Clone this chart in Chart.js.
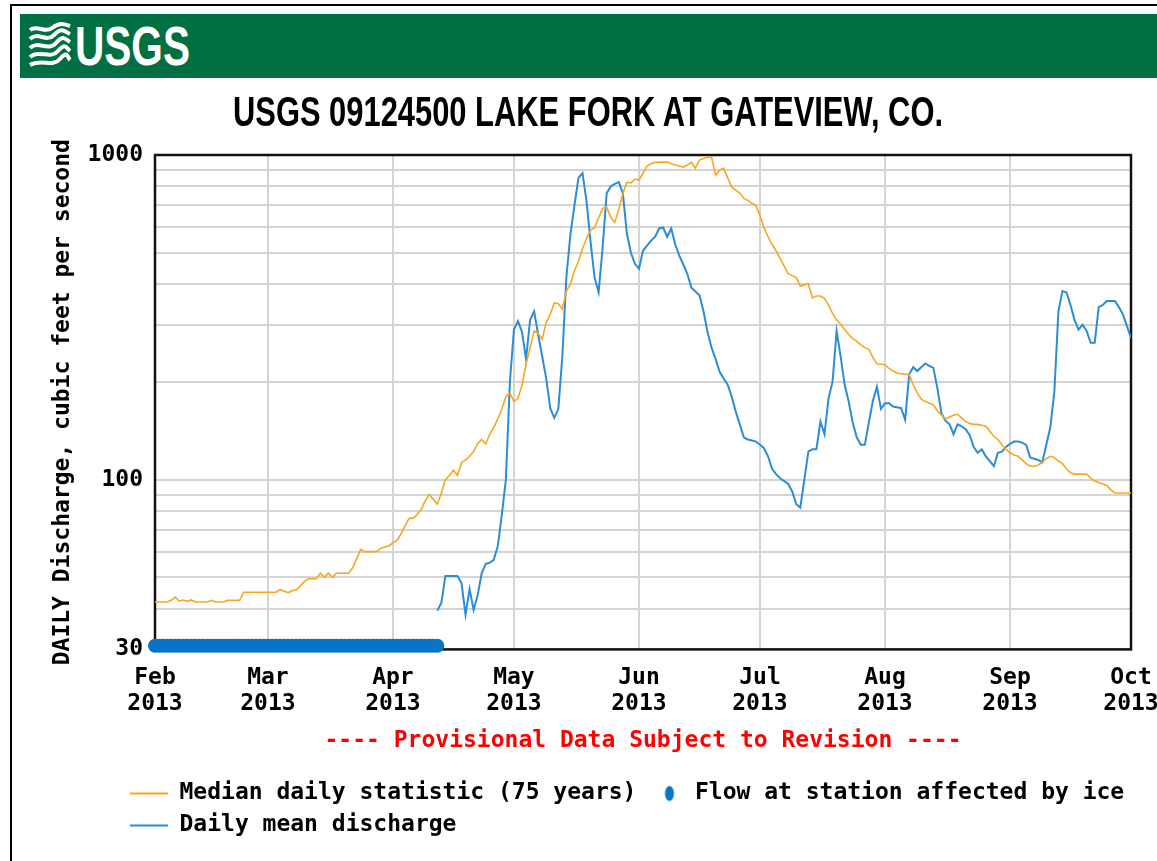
<!DOCTYPE html>
<html>
<head>
<meta charset="utf-8">
<title>USGS 09124500 LAKE FORK AT GATEVIEW, CO.</title>
<script src="https://cdn.jsdelivr.net/npm/chart.js@4.4.1/dist/chart.umd.min.js"></script>
<style>
  html, body { margin: 0; padding: 0; background: #fff; overflow: hidden; }
  #wrap { position: absolute; left: 0; top: 0; width: 1157px; height: 861px; }
  #frame { position: absolute; left: 10px; top: 4px; width: 1200px; height: 900px;
           border-left: 2px solid #000; border-top: 2px solid #000; pointer-events: none; }
  #banner { position: absolute; left: 20px; top: 14px; width: 1150px; height: 64px; background: #006f41; }
  #heading { position: absolute; left: 0; top: 80px; }
</style>
</head>
<body>
<div id="wrap"><canvas id="flowChart"></canvas></div>
<div id="frame"></div>
<div id="banner">
  <svg width="190" height="64" viewBox="0 0 190 64">
    <g fill="none" stroke="#fff" stroke-width="4">
      <path d="M10,16 C18,10 24,20 32,14 S44,10 50,12"/>
      <path d="M10,25 C18,17 26,29 34,21 S44,17 50,20"/>
      <path d="M10,34 C18,26 28,38 36,29 S45,25 50,28"/>
      <path d="M10,43 C20,35 30,46 38,37 S46,34 50,37"/>
      <path d="M10,51 C22,44 32,54 40,45 S47,43 50,46"/>
    </g>
    <text x="55" y="51" fill="#fff" font-family="Liberation Sans, Arial, sans-serif" font-weight="bold"
          font-size="56" textLength="115" lengthAdjust="spacingAndGlyphs">USGS</text>
  </svg>
</div>
<div id="heading">
  <svg width="1157" height="60" viewBox="0 0 1157 60">
    <text x="233" y="46" fill="#000" font-family="Liberation Sans, Arial, sans-serif" font-weight="bold"
          font-size="42" textLength="710" lengthAdjust="spacingAndGlyphs">USGS 09124500 LAKE FORK AT GATEVIEW, CO.</text>
  </svg>
</div>
<script>
// day 0 = Feb 1 2013, day 242 = Oct 1 2013
const monthDays = [0, 28, 59, 89, 120, 150, 181, 212, 242];
const monthLabels = [['Feb', '2013'], ['Mar', '2013'], ['Apr', '2013'], ['May', '2013'], ['Jun', '2013'],
                     ['Jul', '2013'], ['Aug', '2013'], ['Sep', '2013'], ['Oct', '2013']];

const yGridValues = [30, 40, 50, 60, 70, 80, 90, 100, 200, 300, 400, 500, 600, 700, 800, 900, 1000];
const yLabelValues = [30, 100, 1000];

// median daily statistic (75 years), one value per day from Feb 1
const medianFlow = [
  42, 42, 42, 42, 42.5, 43.5, 42.3, 42.6, 42.2, 42.6,
  42, 42, 42, 42, 42.5, 42, 42, 42, 42.5, 42.5,
  42.5, 42.5, 45, 45, 45, 45, 45, 45, 45, 45,
  45, 45.8, 45.3, 44.9, 45.5, 45.8, 47, 48.5, 49.5, 49.5,
  49.5, 51.5, 50, 51.5, 50, 51.5, 51.5, 51.5, 51.5, 53.5,
  57, 61, 60, 60, 60, 60, 61.5, 62, 62.5, 64,
  65, 68, 72, 76, 76, 78, 81, 86, 90, 87,
  84, 91, 100, 103, 107, 103, 113, 115, 118, 122,
  129, 133, 129, 138, 145, 154, 165, 180, 185, 174,
  178, 195, 227, 255, 287, 282, 271, 305, 323, 350,
  348, 335, 381, 400, 440, 470, 515, 553, 586, 598,
  640, 685, 690, 643, 620, 680, 760, 825, 820, 843,
  837, 880, 925, 940, 948, 951, 951, 951, 940, 931,
  925, 918, 931, 950, 911, 965, 975, 986, 985, 867,
  898, 911, 850, 796, 780, 763, 735, 725, 710, 700,
  650, 598, 560, 530, 507, 480, 455, 431, 425, 419,
  395, 398, 401, 363, 368, 368, 362, 345, 325, 310,
  301, 290, 280, 272, 267, 260, 255, 252, 238, 227,
  227, 226, 220, 216, 213, 212, 211, 211, 196, 185,
  177, 174, 172, 170, 163, 158, 154, 156, 158, 159,
  155, 151, 149, 148, 148, 147, 146, 141, 136, 133,
  128, 124, 121, 119, 118, 115, 112, 110, 110, 111,
  113, 116, 118, 117, 114, 112, 108, 105, 104, 104,
  104, 104, 101, 99, 98, 97, 96, 93, 91, 91,
  91, 91, 91
];

// daily mean discharge, starts Apr 12 (day 70)
const dischargeStartDay = 70;
const dischargeFlow = [
  39.5, 41.7, 50.5, 50.5, 50.5, 50.5, 48, 38.3, 46, 39.7,
  44, 51.5, 55, 55.5, 56.6, 62.5, 78, 100, 200, 290,
  308, 285, 235, 310, 330, 280, 240, 205, 166, 155,
  165, 240, 420, 570, 700, 850, 880, 720, 540, 419,
  378, 520, 763, 800, 815, 825, 763, 573, 500, 462,
  446, 507, 526, 545, 560, 594, 598, 560, 594, 530,
  490, 460, 430, 390, 380, 370, 330, 285, 255, 235,
  215, 205, 196, 180, 162, 148, 135, 133, 132, 131,
  128, 125, 118, 108, 104, 101, 99, 97, 92, 84,
  82, 100, 122, 124, 124, 151, 138, 178, 200, 287,
  240, 196, 174, 150, 135, 128, 128, 150, 175, 193,
  165, 172, 172, 168, 167, 166, 153, 211, 222, 216,
  222, 228, 224, 221, 191, 160, 152, 148, 138, 148,
  146, 143, 137, 126, 121, 124, 118, 114, 110, 121,
  122, 126, 129, 131, 131, 130, 128, 117, 116, 115,
  113, 128, 145, 187, 330, 381, 377, 345, 310, 290,
  300, 287, 264, 264, 340, 345, 355, 355, 355, 340,
  323, 297, 273
];

// ice-affected days (Feb 1 - Apr 12), marker level at the bottom of the plot
const iceStartDay = 0;
const iceFlow = [
  30.8, 30.8, 30.8, 30.8, 30.8, 30.8, 30.8, 30.8, 30.8, 30.8,
  30.8, 30.8, 30.8, 30.8, 30.8, 30.8, 30.8, 30.8, 30.8, 30.8,
  30.8, 30.8, 30.8, 30.8, 30.8, 30.8, 30.8, 30.8, 30.8, 30.8,
  30.8, 30.8, 30.8, 30.8, 30.8, 30.8, 30.8, 30.8, 30.8, 30.8,
  30.8, 30.8, 30.8, 30.8, 30.8, 30.8, 30.8, 30.8, 30.8, 30.8,
  30.8, 30.8, 30.8, 30.8, 30.8, 30.8, 30.8, 30.8, 30.8, 30.8,
  30.8, 30.8, 30.8, 30.8, 30.8, 30.8, 30.8, 30.8, 30.8, 30.8,
  30.8
];

const MONO = "'DejaVu Sans Mono', 'Liberation Mono', monospace";
const ORANGE = '#fba51f';
const BLUE = '#2b8dd6';
const ICE = '#0874c6';

function toPoints(values, start) {
  return values.map((v, i) => ({ x: start + i, y: v }));
}

// upright oval used as the ice symbol in the legend (drawn right of centre)
const iceIcon = document.createElement('canvas');
iceIcon.width = 44;
iceIcon.height = 18;
(function () {
  const c = iceIcon.getContext('2d');
  c.fillStyle = ICE;
  c.beginPath();
  c.ellipse(27, 9, 4.5, 7.5, 0, 0, Math.PI * 2);
  c.fill();
})();

const plotFrame = {
  id: 'plotFrame',
  beforeDatasetsDraw(chart) {
    const { ctx, chartArea: a } = chart;
    ctx.save();
    ctx.strokeStyle = '#111';
    ctx.lineWidth = 2.5;
    ctx.strokeRect(a.left, a.top, a.right - a.left, a.bottom - a.top);
    ctx.restore();
  }
};

// the legend in the original sits further left than the plot area
const legendShift = {
  id: 'legendShift',
  afterLayout(chart) {
    chart.legend.left = 121;
    chart.legend.right = 1157;
  }
};

const ctx = document.getElementById('flowChart').getContext('2d');
new Chart(ctx, {
  type: 'line',
  data: {
    datasets: [
      {
        label: 'Median daily statistic (75 years)',
        data: toPoints(medianFlow, 0),
        borderColor: ORANGE,
        backgroundColor: ORANGE,
        borderWidth: 1.6,
        pointRadius: 0,
        pointStyle: 'line',
        tension: 0
      },
      {
        label: 'Flow at station affected by ice',
        data: toPoints(iceFlow, iceStartDay),
        showLine: false,
        borderColor: ICE,
        backgroundColor: ICE,
        borderWidth: 0,
        pointRadius: 7,
        pointHoverRadius: 7,
        pointStyle: 'circle',
        clip: false
      },
      {
        label: 'Daily mean discharge',
        data: toPoints(dischargeFlow, dischargeStartDay),
        borderColor: BLUE,
        backgroundColor: BLUE,
        borderWidth: 2,
        pointRadius: 0,
        pointStyle: 'line',
        tension: 0
      }
    ]
  },
  options: {
    responsive: true,
    maintainAspectRatio: false,
    animation: false,
    layout: { padding: { left: 40, right: 26, top: 155, bottom: 14 } },
    scales: {
      x: {
        type: 'linear',
        min: 0,
        max: 242,
        afterBuildTicks: scale => { scale.ticks = monthDays.map(d => ({ value: d })); },
        afterFit: scale => {
          scale.height = 68;
          scale.paddingLeft = 0;
          scale.paddingRight = 0;
        },
        grid: { color: '#d4d4d4', lineWidth: 2, drawTicks: false },
        border: { display: false },
        ticks: {
          autoSkip: false,
          maxRotation: 0,
          padding: 15,
          color: '#000',
          font: { family: MONO, size: 23, weight: 'bold', lineHeight: 1.15 },
          callback: (value, index) => monthLabels[index]
        }
      },
      y: {
        type: 'logarithmic',
        min: 30,
        max: 1000,
        afterBuildTicks: scale => { scale.ticks = yGridValues.map(v => ({ value: v })); },
        afterFit: scale => { scale.width = 115; },
        grid: { color: '#d4d4d4', lineWidth: 2, drawTicks: false },
        border: { display: false },
        ticks: {
          autoSkip: false,
          padding: 12,
          color: '#000',
          font: { family: MONO, size: 23, weight: 'bold' },
          callback: value => (yLabelValues.includes(value) ? String(value) : '')
        },
        title: {
          display: true,
          text: 'DAILY Discharge, cubic feet per second',
          color: '#000',
          padding: { top: 9, bottom: 4 },
          font: { family: MONO, size: 23, weight: 'bold' }
        }
      }
    },
    plugins: {
      title: { display: false },
      subtitle: {
        display: true,
        position: 'bottom',
        fullSize: false,
        weight: 500,
        text: '---- Provisional Data Subject to Revision ----',
        color: '#ff0000',
        padding: { top: 10, bottom: 18 },
        font: { family: MONO, size: 23, weight: 'bold' }
      },
      legend: {
        position: 'bottom',
        align: 'start',
        labels: {
          color: '#000',
          font: { family: MONO, size: 23, weight: 'bold' },
          usePointStyle: true,
          pointStyleWidth: 38,
          padding: 9,
          generateLabels(chart) {
            const items = Chart.defaults.plugins.legend.labels.generateLabels(chart);
            items.forEach(item => {
              if (item.datasetIndex === 1) item.pointStyle = iceIcon;
              else item.lineWidth = 2;
            });
            return items;
          }
        }
      },
      tooltip: { enabled: false }
    }
  },
  plugins: [plotFrame, legendShift]
});
</script>
</body>
</html>
